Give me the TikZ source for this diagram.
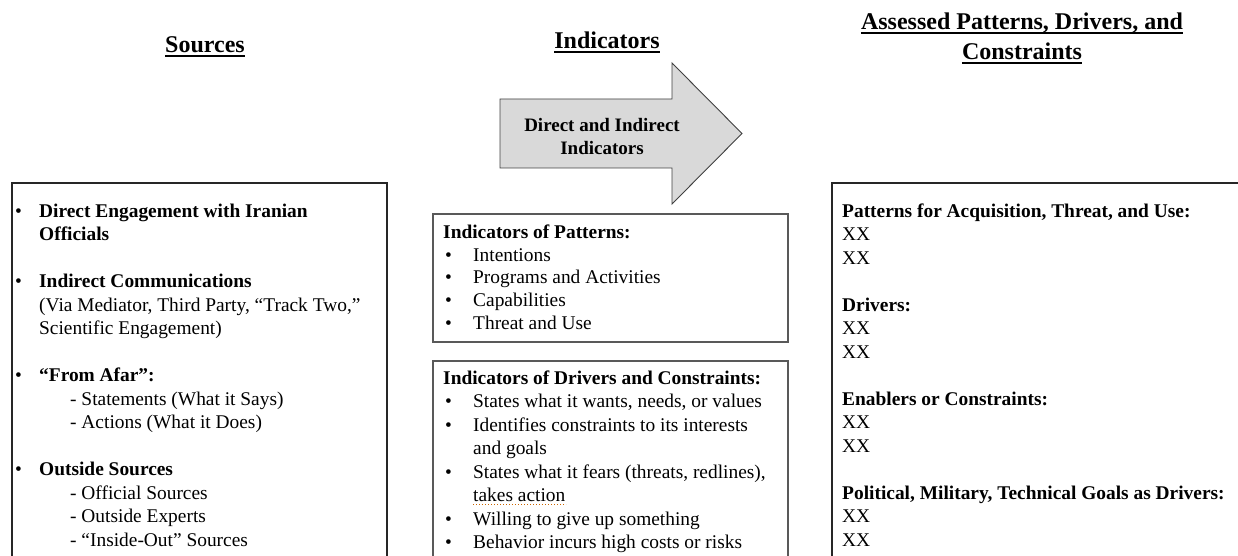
\documentclass[tikz,border=0pt]{standalone}
\usepackage{fontspec}
\setmainfont{Liberation Serif}
\newcommand\blt[1]{\makebox[#1][l]{•}}
\begin{document}
\begin{tikzpicture}[x=1pt,y=-1pt,
  ttl/.style={font=\fontsize{24}{30}\selectfont\bfseries, anchor=base, inner sep=0pt},
  uline/.style={line width=1.8pt},
  body/.style={font=\fontsize{19.4}{23.5}\selectfont, anchor=north west, inner sep=0pt, align=left},
  bodytight/.style={body, font=\fontsize{19.4}{22.7}\selectfont},
  frame/.style={draw=black!85, line width=1.1pt},
  grayframe/.style={draw=black!65, line width=1.6pt},
  bigarrow/.style={draw=black!75, fill=black!15, line width=0.9pt}]
\useasboundingbox (0,0) rectangle (1238,556);

% column titles
\node[ttl] (srcttl) at (205,53) {Sources};
\node[ttl] (indttl) at (607,49) {Indicators};
\node[ttl] (asdttl) at (1022,30) {Assessed Patterns, Drivers, and};
\node[ttl] (conttl) at (1022,60) {Constraints};
\foreach \t in {srcttl,indttl,asdttl,conttl}
  \draw[uline] ([yshift=-3pt]\t.base west) -- ([yshift=-3pt]\t.base east);

% arrow
\draw[bigarrow] (500,99) -- (672,99) -- (672,63) -- (742,133.5) -- (672,204)
  -- (672,168) -- (500,168) -- cycle;
\node[font=\fontsize{19}{23}\selectfont\bfseries, align=center, inner sep=0pt] (arrtxt) at (602,137)
  {Direct and Indirect\\Indicators};

% boxes
\draw[frame] (12,570) -- (12,183) -- (387,183) -- (387,570);
\draw[grayframe] (433,214) rectangle (788,342);
\draw[grayframe] (433,570) -- (433,361) -- (788,361) -- (788,570);
\draw[frame] (832,570) -- (832,183) -- (1250,183);

% sources
\node[body] (srctxt) at (15,200.55) {\strut\blt{24pt}\textbf{Direct Engagement with Iranian}\\
  \hspace*{24pt}\textbf{Officials}\\[23.5pt]
  \blt{24pt}\textbf{Indirect Communications}\\
  \hspace*{24pt}(Via Mediator, Third Party, “Track Two,”\\
  \hspace*{24pt}Scientific Engagement)\\[23.5pt]
  \blt{24pt}\textbf{“From Afar”:}\\
  \hspace*{55pt}- Statements (What it Says)\\
  \hspace*{55pt}- Actions (What it Does)\\[23.5pt]
  \blt{24pt}\textbf{Outside Sources}\\
  \hspace*{55pt}- Official Sources\\
  \hspace*{55pt}- Outside Experts\\
  \hspace*{55pt}- “Inside-Out” Sources};

% indicators
\node[bodytight] (pattxt) at (443,222.5) {\strut\textbf{Indicators of Patterns:}\\
  \hspace*{2pt}\blt{28pt}Intentions\\
  \hspace*{2pt}\blt{28pt}Programs and Activities\\
  \hspace*{2pt}\blt{28pt}Capabilities\\
  \hspace*{2pt}\blt{28pt}Threat and Use};
\node[body] (drvtxt) at (443,367.5) {\strut\textbf{Indicators of Drivers and Constraints:}\\
  \hspace*{2pt}\blt{28pt}States what it wants, needs, or values\\
  \hspace*{2pt}\blt{28pt}Identifies constraints to its interests\\
  \hspace*{30pt}and goals\\
  \hspace*{2pt}\blt{28pt}States what it fears (threats, redlines),\\
  \hspace*{30pt}takes action\\
  \hspace*{2pt}\blt{28pt}Willing to give up something\\
  \hspace*{2pt}\blt{28pt}Behavior incurs high costs or risks};
\draw[draw=orange!80!black, line width=1pt, dotted] (473,504) -- (566,504);

% assessed
\node[body] (asdtxt) at (842,200.55) {\strut\textbf{Patterns for Acquisition, Threat, and Use:}\\
  XX\\
  XX\\[23.5pt]
  \textbf{Drivers:}\\
  XX\\
  XX\\[23.5pt]
  \textbf{Enablers or Constraints:}\\
  XX\\
  XX\\[23.5pt]
  \textbf{Political, Military, Technical Goals as Drivers:}\\
  XX\\
  XX};
\end{tikzpicture}
\end{document}
